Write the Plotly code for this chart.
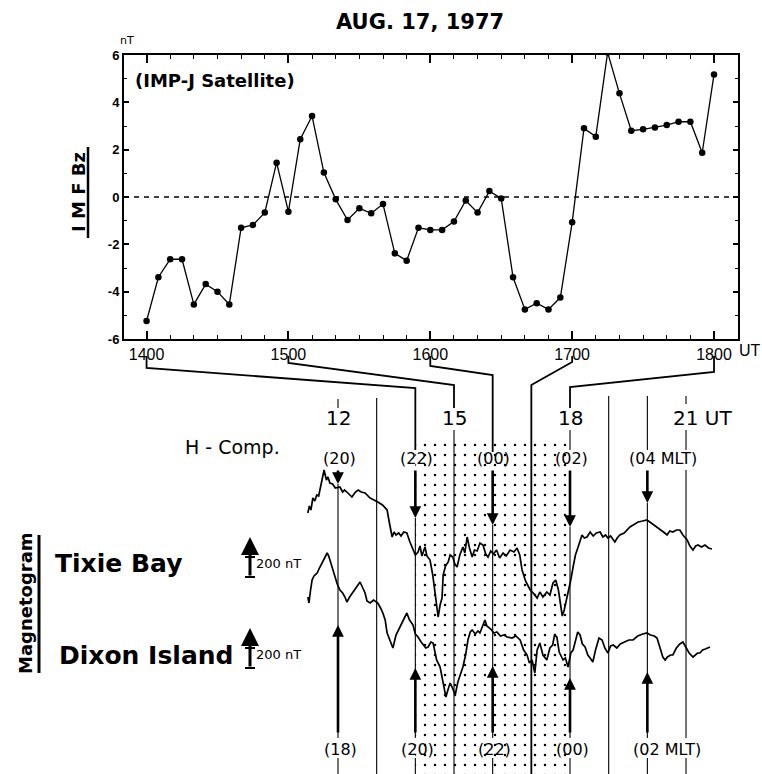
import plotly.graph_objects as go

W, H = 762, 774

# ---------------- IMP-J IMF Bz, 5-minute values, 14:00-18:00 UT ----------------
bz_hhmm = [1400, 1405, 1410, 1415, 1420, 1425, 1430, 1435, 1440, 1445, 1450, 1455,
           1500, 1505, 1510, 1515, 1520, 1525, 1530, 1535, 1540, 1545, 1550, 1555,
           1600, 1605, 1610, 1615, 1620, 1625, 1630, 1635, 1640, 1645, 1650, 1655,
           1700, 1705, 1710, 1715, 1720, 1725, 1730, 1735, 1740, 1745, 1750, 1755, 1800]
bz_nT = [-5.24, -3.39, -2.63, -2.63, -4.54, -3.68, -4.00, -4.54, -1.30, -1.18, -0.66, 1.45,
         -0.62, 2.44, 3.42, 1.03, -0.10, -0.97, -0.48, -0.69, -0.30, -2.38, -2.69, -1.30,
         -1.39, -1.39, -1.04, -0.15, -0.66, 0.25, -0.06, -3.39, -4.75, -4.49, -4.75, -4.25,
         -1.07, 2.90, 2.55, 6.11, 4.38, 2.80, 2.86, 2.94, 3.04, 3.18, 3.18, 1.87, 5.18]

x_tick_hours = [14, 15, 16, 17, 18]
x_tick_text = ["1400", "1500", "1600", "1700", "1800"]
y_tick_vals = [-6, -4, -2, 0, 2, 4, 6]
y_tick_text = ["-6", "-4", "-2", "0", "2", "4", "6"]

# ---------------- H-component magnetograms (UT hours, nT about station baseline) ----------------
tixie_ut = [11.22, 11.26, 11.30, 11.35, 11.40, 11.45, 11.50, 11.56, 11.64, 11.70, 11.74, 11.79,
            11.86, 11.93, 12.05, 12.12, 12.17, 12.23, 12.30, 12.36, 12.45, 12.52, 12.60, 12.70,
            12.83, 12.95, 13.03, 13.15, 13.27, 13.33, 13.40, 13.45, 13.50, 13.57, 13.63, 13.70,
            13.78, 13.86, 13.94, 14.00, 14.07, 14.12, 14.17, 14.25, 14.30, 14.38, 14.45, 14.51,
            14.56, 14.59, 14.64, 14.69, 14.72, 14.78, 14.85, 14.90, 14.97, 15.02, 15.08, 15.15,
            15.23, 15.28, 15.34, 15.40, 15.47, 15.53, 15.60, 15.67, 15.75, 15.82, 15.88, 15.95,
            16.02, 16.10, 16.18, 16.27, 16.35, 16.45, 16.55, 16.63, 16.70, 16.76, 16.85, 16.97,
            17.05, 17.15, 17.22, 17.30, 17.40, 17.48, 17.56, 17.63, 17.70, 17.76, 17.80, 17.85,
            17.90, 17.95, 18.02, 18.08, 18.14, 18.21, 18.31, 18.37, 18.44, 18.52, 18.60, 18.68,
            18.78, 18.85, 18.92, 18.98, 19.05, 19.16, 19.22, 19.29, 19.40, 19.55, 19.65, 19.76,
            19.88, 19.99, 20.10, 20.25, 20.35, 20.45, 20.51, 20.58, 20.66, 20.75, 20.84, 20.92,
            21.03, 21.10, 21.18, 21.25, 21.31, 21.40, 21.49, 21.58, 21.67]
tixie_dH = [470, 540, 500, 620, 590, 650, 640, 760, 900, 800, 830, 770,
            760, 720, 730, 680, 700, 680, 650, 630, 680, 700, 680, 670,
            620, 600, 580, 550, 500, 370, 230, 280, 250, 270, 240, 280,
            270, 180, 100, 50, 80, 140, 40, 130, 40, 0, -150, -330,
            -450, -570, -450, -380, -150, -60, -20, 50, 30, -40, -70, 50,
            130, 70, 230, 120, 30, 100, 90, 170, 150, 60, 30, 90,
            60, 100, 20, 70, 40, 100, 80, 120, 50, -100, -210, -300,
            -330, -380, -320, -370, -320, -350, -230, -200, -300, -450, -560, -500,
            -420, -330, -200, -70, 50, 130, 250, 220, 230, 280, 240, 270,
            280, 230, 250, 220, 240, 180, 220, 250, 270, 330, 350, 380,
            390, 400, 370, 330, 300, 270, 250, 290, 280, 300, 300, 250,
            200, 140, 100, 140, 150, 130, 150, 120, 110]

dixon_ut = [11.22, 11.25, 11.29, 11.33, 11.38, 11.46, 11.52, 11.59, 11.65, 11.72, 11.76, 11.79,
            11.85, 11.92, 11.98, 12.05, 12.12, 12.18, 12.23, 12.30, 12.39, 12.47, 12.57, 12.63,
            12.70, 12.75, 12.83, 12.92, 13.03, 13.10, 13.16, 13.22, 13.27, 13.34, 13.42, 13.50,
            13.60, 13.68, 13.78, 13.85, 13.94, 14.00, 14.07, 14.15, 14.20, 14.27, 14.33, 14.40,
            14.46, 14.55, 14.64, 14.72, 14.79, 14.85, 14.90, 14.95, 15.03, 15.10, 15.17, 15.23,
            15.30, 15.36, 15.42, 15.47, 15.55, 15.62, 15.67, 15.74, 15.80, 15.85, 15.88, 15.95,
            16.03, 16.11, 16.20, 16.30, 16.37, 16.50, 16.60, 16.71, 16.80, 16.89, 16.95, 17.02,
            17.09, 17.15, 17.22, 17.30, 17.40, 17.48, 17.55, 17.60, 17.66, 17.72, 17.82, 17.88,
            17.95, 18.02, 18.08, 18.15, 18.20, 18.26, 18.32, 18.39, 18.46, 18.52, 18.59, 18.66,
            18.75, 18.83, 18.90, 18.98, 19.05, 19.12, 19.21, 19.30, 19.40, 19.52, 19.63, 19.75,
            19.88, 19.99, 20.08, 20.18, 20.25, 20.33, 20.40, 20.46, 20.52, 20.60, 20.66, 20.75,
            20.84, 20.92, 21.00, 21.08, 21.18, 21.25, 21.30, 21.36, 21.43, 21.50, 21.58, 21.62]
dixon_dH = [430, 370, 500, 600, 640, 670, 720, 770, 810, 870, 840, 800,
            740, 630, 560, 500, 470, 430, 380, 430, 480, 520, 580, 530,
            470, 390, 370, 400, 370, 320, 270, 200, 70, 0, -80, 50,
            130, 200, 270, 200, 150, 60, 30, -20, -50, -80, -70, -20,
            -30, -200, -270, -450, -570, -490, -430, -470, -550, -420, -330, -270,
            -150, 0, 80, 100, 60, 90, 70, 150, 200, 140, 130, 110,
            70, 80, 40, 50, 30, 20, 40, 0, -100, -150, -230, -200,
            -330, -100, -30, -150, -200, -80, -50, 50, 30, -120, -200, -180,
            -270, -130, -100, 20, 80, 50, -40, -70, -150, -180, -220, -100,
            20, 0, -80, -130, -60, -50, -80, -40, -20, 0, 0, 40,
            60, 70, 50, 40, 20, -80, -170, -200, -170, -150, -150, -80,
            -40, -20, -70, -130, -170, -150, -130, -130, -100, -90, -80, -70]

# MLT markers: (UT hour, label) for each station
tixie_mlt = [(12, "(20)"), (14, "(22)"), (16, "(00)"), (18, "(02)"), (20, "(04 MLT)")]
dixon_mlt = [(12, "(18)"), (14, "(20)"), (16, "(22)"), (18, "(00)"), (20, "(02 MLT)")]
hour_lines = [12, 13, 14, 15, 16, 17, 18, 19, 20, 21]
ut_labels = [(12, "12"), (15, "15"), (18, "18"), (21, "21 UT")]

# ---------------- layout geometry ----------------
FONT = "DejaVu Sans"
NT_PER_PX = 10                       # 200 nT scale bar spans 20 px
XDOM = [124 / W, 738 / W]
YDOM = [1 - 339 / H, 1 - 55 / H]
XR = [13.841, 18.169]
X2R = [3.259, 22.965]
TIXIE_BASE = (H - 560) * NT_PER_PX
DIXON_BASE = (H - 640) * NT_PER_PX


def px(x):
    return x / W


def py(y):
    return 1 - y / H


def top_px(h):
    return W * (XDOM[0] + (h - XR[0]) / (XR[1] - XR[0]) * (XDOM[1] - XDOM[0]))


def bot_px(h):
    return W * (h - X2R[0]) / (X2R[1] - X2R[0])


def label(x, y, text, size, xref="paper", xanchor="center", weight="normal",
          family=FONT, angle=0, xshift=0):
    return dict(x=x, y=y, xref=xref, yref="paper", text=text, showarrow=False,
                xanchor=xanchor, yanchor="middle", xshift=xshift, textangle=angle,
                font=dict(family=family, size=size, color="black", weight=weight))


def arrow(x, y_tip, y_tail, xref="x2", size=0.9, width=2.6):
    return dict(x=x, y=py(y_tip), xref=xref, yref="paper", text="", showarrow=True,
                ax=0, ay=y_tail - y_tip, axref="pixel", ayref="pixel",
                arrowhead=2, arrowsize=size, arrowwidth=width, arrowcolor="black")


bz_hours = [t // 100 + (t % 100) / 60 for t in bz_hhmm]

fig = go.Figure()

# IMF Bz panel
fig.add_trace(go.Scatter(
    x=bz_hours, y=bz_nT, mode="lines+markers",
    line=dict(color="black", width=1.3),
    marker=dict(color="black", size=6.5),
    xaxis="x", yaxis="y", showlegend=False, hoverinfo="skip"))

# stippled interval covered by the satellite data
t0, t1 = bz_hours[0], bz_hours[-1]
stip_top = (H - 443) * NT_PER_PX
fig.add_trace(go.Scatter(
    x=[t0, t1, t1, t0, t0], y=[stip_top, stip_top, 0, 0, stip_top],
    mode="lines", line=dict(width=0, color="rgba(0,0,0,0)"),
    fill="toself", fillcolor="rgba(0,0,0,0)",
    fillpattern=dict(shape=".", size=10, solidity=0.05, fgcolor="black",
                     bgcolor="rgba(255,255,255,0)", fillmode="replace"),
    xaxis="x2", yaxis="y2", showlegend=False, hoverinfo="skip"))

# magnetograms
fig.add_trace(go.Scatter(
    x=tixie_ut, y=[TIXIE_BASE + v for v in tixie_dH], mode="lines",
    line=dict(color="black", width=1.7), xaxis="x2", yaxis="y2",
    showlegend=False, hoverinfo="skip"))
fig.add_trace(go.Scatter(
    x=dixon_ut, y=[DIXON_BASE + v for v in dixon_dH], mode="lines",
    line=dict(color="black", width=1.7), xaxis="x2", yaxis="y2",
    showlegend=False, hoverinfo="skip"))

shapes = []
annotations = []

# zero line of Bz
shapes.append(dict(type="line", xref="x domain", yref="y", x0=0, x1=1, y0=0, y1=0,
                   line=dict(color="black", width=1.3, dash="5px,5px")))

# connectors from the Bz time axis down to the magnetogram hour lines
conn = {14: (368, 388, 450), 15: (363, 385, 408), 16: (366, 375, 452),
        17: (362, 385, H), 18: (372, 387, 408)}
for h, (k_top, k_bot, end) in conn.items():
    xa, xb = top_px(h), bot_px(h)
    path = (f"M{px(xa)},{py(356)} L{px(xa)},{py(k_top)} "
            f"L{px(xb)},{py(k_bot)} L{px(xb)},{py(end)}")
    shapes.append(dict(type="path", xref="paper", yref="paper", path=path,
                       line=dict(color="black", width=1.8), layer="above"))

# thin hour lines of the magnetogram panel (broken where labels sit)
segs = {12: [(399, 408), (484, 738), (758, H)],
        13: [(398, H)],
        14: [(518, 738), (758, H)],
        15: [(430, H)],
        16: [(525, 738), (758, H)],
        17: [],
        18: [(430, 450), (527, 738), (758, H)],
        19: [(396, H)],
        20: [(396, 450), (503, 738), (758, H)],
        21: [(396, 404), (430, 450), (470, 738), (758, H)]}
for h in hour_lines:
    for a, b in segs[h]:
        shapes.append(dict(type="line", xref="x2", yref="paper", x0=h, x1=h,
                           y0=py(a), y1=py(b), line=dict(color="black", width=1.1),
                           layer="below"))

# UT hour labels
for h, txt in ut_labels:
    if txt.endswith("UT"):
        annotations.append(label(h, py(418), txt, 20, xref="x2", xanchor="left", xshift=-15))
    else:
        annotations.append(label(h, py(418), txt, 20, xref="x2"))

# MLT arrows for Tixie Bay (pointing down) and Dixon Island (pointing up)
tixie_tip = {12: 484, 14: 518, 16: 525, 18: 527, 20: 503}
for h, txt in tixie_mlt:
    wide = "MLT" in txt
    annotations.append(label(h, py(458), txt, 16, xref="x2",
                             xanchor="left" if wide else "center",
                             xshift=-20 if wide else 1))
    annotations.append(arrow(h, tixie_tip[h], 469))

dixon_tip = {12: 625, 14: 668, 16: 666, 18: 678, 20: 672}
for h, txt in dixon_mlt:
    wide = "MLT" in txt
    annotations.append(label(h, py(749), txt, 16, xref="x2",
                             xanchor="left" if wide else "center",
                             xshift=-16 if wide else 2))
    annotations.append(arrow(h, dixon_tip[h], 734))

# station names and 200 nT scale bars
annotations.append(label(px(233), py(447), "H - Comp.", 19))
for name, yc, tip, x_left in [("Tixie Bay", 563, 537, 53), ("Dixon Island", 655, 628, 57)]:
    annotations.append(label(px(x_left), py(yc), name, 25, xanchor="left", weight="bold"))
    bar_bot = tip + 40
    annotations.append(arrow(px(250), tip, bar_bot, xref="paper", size=1.2, width=3))
    for yy in (bar_bot - 20, bar_bot):
        shapes.append(dict(type="line", xref="paper", yref="paper", x0=px(245), x1=px(255),
                           y0=py(yy), y1=py(yy), line=dict(color="black", width=2)))
    annotations.append(label(px(254), py(bar_bot - 14), "200 nT", 13, xanchor="left"))

annotations.append(label(px(25), py(603), "Magnetogram", 18, weight="bold", angle=-90))
shapes.append(dict(type="line", xref="paper", yref="paper", x0=px(39), x1=px(39),
                   y0=py(535), y1=py(673), line=dict(color="black", width=3)))

# Bz panel texts
annotations.append(label(px(78), py(192), "I M F Bz", 18, weight="bold", angle=-90))
shapes.append(dict(type="line", xref="paper", yref="paper", x0=px(88), x1=px(88),
                   y0=py(147), y1=py(238), line=dict(color="black", width=2.5)))
annotations.append(label(px(420), py(22), "AUG. 17, 1977", 21, weight="bold"))
annotations.append(label(px(133), py(81), "(IMP-J Satellite)", 18, xanchor="left",
                         weight="bold"))
annotations.append(label(px(127), py(41), "nT", 11))
annotations.append(label(px(737), py(350), "UT", 16, xanchor="left",
                         family="Liberation Sans"))

fig.update_layout(
    width=W, height=H,
    margin=dict(l=0, r=0, t=0, b=0),
    paper_bgcolor="white", plot_bgcolor="rgba(0,0,0,0)",
    showlegend=False,
    xaxis=dict(domain=XDOM, range=XR, anchor="y",
               tickvals=x_tick_hours, ticktext=x_tick_text,
               ticks="inside", ticklen=8, tickwidth=1.5, tickcolor="black",
               minor=dict(dtick=1 / 6, tick0=14, ticks="inside", ticklen=4,
                          tickwidth=1.2, tickcolor="black"),
               showline=True, linecolor="black", linewidth=2, mirror="ticks",
               showgrid=False, zeroline=False, automargin=False,
               tickfont=dict(family="Liberation Sans", size=16, color="black")),
    yaxis=dict(domain=YDOM, range=[-6, 6], anchor="x",
               tickvals=y_tick_vals, ticktext=y_tick_text,
               ticks="inside", ticklen=5, tickwidth=1.5, tickcolor="black",
               minor=dict(dtick=1, ticks="inside", ticklen=3, tickwidth=1.2,
                          tickcolor="black"),
               showline=True, linecolor="black", linewidth=2, mirror="ticks",
               showgrid=False, zeroline=False, automargin=False,
               tickfont=dict(family="Liberation Sans", size=13, color="black",
                             weight="bold")),
    xaxis2=dict(domain=[0, 1], range=X2R, anchor="y2", visible=False, fixedrange=True),
    yaxis2=dict(domain=[0, 1], range=[0, H * NT_PER_PX], anchor="x2", visible=False,
                fixedrange=True),
    shapes=shapes,
    annotations=annotations,
)

fig.write_html("out.html")
